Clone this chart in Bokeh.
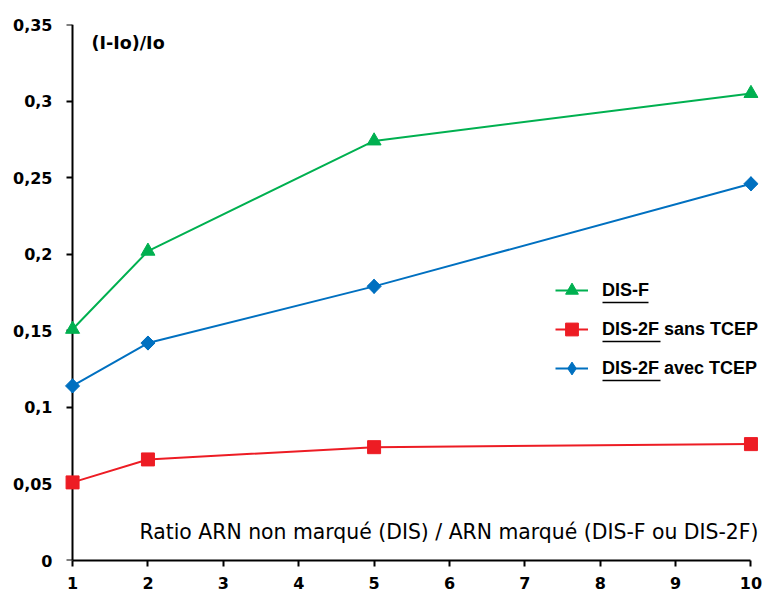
import math
from bokeh.plotting import figure
from bokeh.models import Range1d, FixedTicker, CustomJSTickFormatter, Label, LinearAxis
from bokeh.embed import file_html
from bokeh.resources import INLINE

ratio = [1, 2, 5, 10]
dis_f = [0.151, 0.202, 0.274, 0.305]
dis2f_sans = [0.051, 0.066, 0.074, 0.076]
dis2f_avec = [0.114, 0.142, 0.179, 0.246]
series_labels = ["DIS-F", "DIS-2F sans TCEP", "DIS-2F avec TCEP"]
x_ticks = [1, 2, 3, 4, 5, 6, 7, 8, 9, 10]
y_ticks = [0, 0.05, 0.1, 0.15, 0.2, 0.25, 0.3, 0.35]

GREEN = "#00B050"
RED = "#ED1C24"
BLUE = "#0070C0"
TICK_FONT = "DejaVu Sans"
LEG_FONT = "Liberation Sans"

X0, X1 = 0.8, 10.1
FRAME_L, FRAME_T, FRAME_W, FRAME_H = 57, 24, 701, 536

p = figure(frame_width=FRAME_W, frame_height=FRAME_H, min_border_left=FRAME_L, min_border_top=FRAME_T,
           min_border_bottom=34, min_border_right=10,
           x_range=Range1d(X0, X1), y_range=Range1d(0, 0.35),
           output_backend="svg", toolbar_location=None)
p.outline_line_color = None
p.xgrid.visible = False
p.ygrid.visible = False


def px_to_data(px, py):
    # convert page pixel position to data coordinates (for decorations only)
    x = X0 + (px - FRAME_L) / FRAME_W * (X1 - X0)
    y = (FRAME_T + FRAME_H - py) / FRAME_H * 0.35
    return x, y


p.line(ratio, dis_f, line_color=GREEN, line_width=2, legend_label=series_labels[0])
p.scatter(ratio, dis_f, marker="triangle", size=14, fill_color=GREEN, line_color=GREEN,
          legend_label=series_labels[0])
p.line(ratio, dis2f_sans, line_color=RED, line_width=2, legend_label=series_labels[1])
p.scatter(ratio, dis2f_sans, marker="square", size=13, fill_color=RED, line_color=RED,
          legend_label=series_labels[1])
p.line(ratio, dis2f_avec, line_color=BLUE, line_width=2, legend_label=series_labels[2])
# diamond marker (used for the legend glyph), covered by a wider rotated square
p.scatter(ratio, dis2f_avec, marker="diamond", size=14, fill_color=BLUE, line_color=BLUE,
          legend_label=series_labels[2])
p.scatter(ratio, dis2f_avec, marker="square", angle=math.pi / 4, size=10, fill_color=BLUE,
          line_color=BLUE)

xa = p.xaxis[0]
xa.ticker = FixedTicker(ticks=x_ticks)
xa.bounds = (1, 10)
xa.axis_line_width = 2
xa.axis_line_color = "black"
xa.major_tick_line_width = 2
xa.major_tick_in = 0
xa.major_tick_out = 6
xa.minor_tick_line_color = None
xa.major_label_standoff = 10
xa.major_label_text_font = TICK_FONT
xa.major_label_text_font_style = "bold"
xa.major_label_text_font_size = "16px"
xa.major_label_text_color = "black"

# left axis: labels only, at frame edge
ya = p.yaxis[0]
ya.ticker = FixedTicker(ticks=y_ticks)
ya.formatter = CustomJSTickFormatter(code="""
let s = tick.toFixed(2).replace(/0+$/, '').replace(/\\.$/, '');
return s.replace('.', ',');
""")
ya.axis_line_color = None
ya.major_tick_line_color = None
ya.major_tick_in = 0
ya.major_tick_out = 0
ya.minor_tick_line_color = None
ya.major_label_standoff = 5
ya.major_label_text_font = TICK_FONT
ya.major_label_text_font_style = "bold"
ya.major_label_text_font_size = "16px"
ya.major_label_text_color = "black"

# axis line + ticks at x = 1
ya2 = LinearAxis(fixed_location=1, ticker=FixedTicker(ticks=y_ticks), bounds=(0, 0.35),
                 formatter=CustomJSTickFormatter(code="return '';"),
                 axis_line_width=2, axis_line_color="black", major_tick_line_width=2,
                 major_tick_in=6, major_tick_out=0, minor_tick_line_color=None,
                 major_label_standoff=0, major_label_text_font_size="1px", level="underlay")
p.add_layout(ya2, "right")

p.add_layout(Label(x=1.25, y=0.338, text="(I-Io)/Io", text_font=TICK_FONT, text_font_style="bold",
                   text_font_size="17.5px", text_baseline="middle", text_color="black"))
p.add_layout(Label(x=10.1, y=0.0185, text="Ratio ARN non marqué (DIS) / ARN marqué (DIS-F ou DIS-2F)",
                   text_font=TICK_FONT, text_font_size="20.4px", text_align="right", text_baseline="middle",
                   text_color="black"))

lg = p.legend[0]
lg.location = (498, 176)
lg.margin = 0
lg.padding = 0
lg.border_line_color = None
lg.background_fill_alpha = 0
lg.glyph_width = 33
lg.glyph_height = 32
lg.label_height = 32
lg.spacing = 7
lg.label_standoff = 14
lg.label_text_font = LEG_FONT
lg.label_text_font_style = "bold"
lg.label_text_font_size = "18px"
lg.label_text_color = "black"

# underlines of "DIS-F" / "DIS-2F" in the legend
ul_x0, ul_x1, ul_y = [], [], []
for (a, b, yy) in [(602, 648, 302), (602, 660, 341), (602, 660, 380)]:
    xa0, yd = px_to_data(a, yy)
    xb0, _ = px_to_data(b, yy)
    ul_x0.append(xa0)
    ul_x1.append(xb0)
    ul_y.append(yd)
p.segment(x0=ul_x0, y0=ul_y, x1=ul_x1, y1=ul_y, line_color="black", line_width=1.6)

open("out.html", "w").write(file_html(p, INLINE))
